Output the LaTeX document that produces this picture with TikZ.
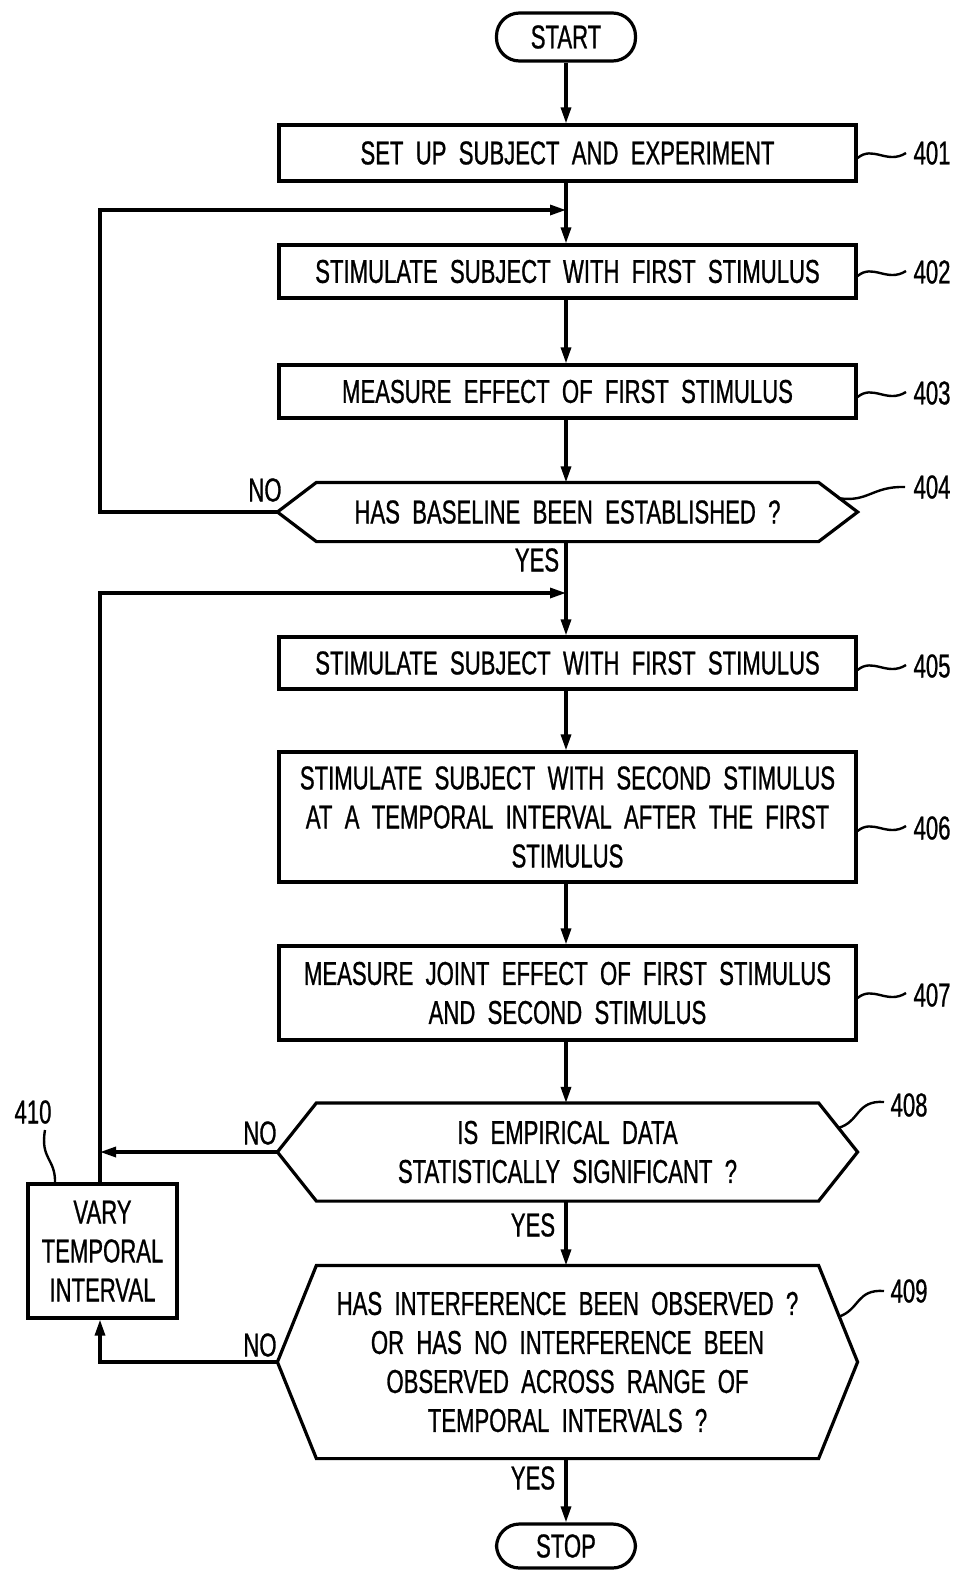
\documentclass[tikz,border=0pt]{standalone}
\usepackage{fontspec}
\setmainfont{Liberation Sans}[FakeStretch=0.67,WordSpace=2,FakeBold=0.8]
\usetikzlibrary{arrows.meta}
\newcommand\fs{\fontsize{33}{39}\selectfont}
\begin{document}
\begin{tikzpicture}[x=1pt,y=-1pt,line width=3.2pt,
  box/.style={draw,minimum width=577pt,minimum height=#1,inner sep=0pt,align=center,font=\fs},
  hexn/.style={minimum width=577pt,minimum height=#1,inner sep=0pt,align=center,font=\fs},
  pill/.style={draw,rounded corners=23pt,minimum width=139pt,minimum height=#1,inner sep=0pt,font=\fs},
  lbl/.style={inner sep=0pt,font=\fs},
  arr/.style={-{Triangle[length=16pt,width=10pt]}},
  lead/.style={line width=2.4pt}]
\useasboundingbox (0,0) rectangle (961,1572);
% nodes
\node[pill=48pt] (start) at (566,37) {START};
\node[box=56pt] (b401) at (567.5,153) {SET UP SUBJECT AND EXPERIMENT};
\node[box=53pt] (b402) at (567.5,271.5) {STIMULATE SUBJECT WITH FIRST STIMULUS};
\node[box=53pt] (b403) at (567.5,391.5) {MEASURE EFFECT OF FIRST STIMULUS};
\node[hexn=56pt] (h404) at (567.5,512) {HAS BASELINE BEEN ESTABLISHED ?};
\node[box=52pt] (b405) at (567.5,663) {STIMULATE SUBJECT WITH FIRST STIMULUS};
\node[box=130pt] (b406) at (567.5,817) {STIMULATE SUBJECT WITH SECOND STIMULUS\\AT A TEMPORAL INTERVAL AFTER THE FIRST\\STIMULUS};
\node[box=94pt] (b407) at (567.5,993) {MEASURE JOINT EFFECT OF FIRST STIMULUS\\AND SECOND STIMULUS};
\node[hexn=95pt] (h408) at (567.5,1152) {IS EMPIRICAL DATA\\STATISTICALLY SIGNIFICANT ?};
\node[hexn=190pt] (h409) at (567.5,1362) {HAS INTERFERENCE BEEN OBSERVED ?\\OR HAS NO INTERFERENCE BEEN\\OBSERVED ACROSS RANGE OF\\TEMPORAL INTERVALS ?};
\node[pill=44pt] (stop) at (566,1546) {STOP};
\node[draw,minimum width=149pt,minimum height=134pt,inner sep=0pt,align=center,font=\fs] (b410) at (102.5,1251) {VARY\\TEMPORAL\\INTERVAL};
% hexagon outlines
\foreach \h in {h404,h408,h409}{
  \draw (\h.west) -- ([xshift=39pt]\h.north west) -- ([xshift=-39pt]\h.north east) -- (\h.east)
    -- ([xshift=-39pt]\h.south east) -- ([xshift=39pt]\h.south west) -- cycle;}
% junctions
\coordinate (j1) at (566,210);
\coordinate (c1) at (100,210);
\coordinate (j2) at (566,593);
\coordinate (c2) at (100,593);
\coordinate (v408) at (100,1152);
% main flow
\draw[arr] (start) -- (start |- b401.north);
\draw[arr] (start |- b401.south) -- (start |- b402.north);
\draw[arr] (start |- b402.south) -- (start |- b403.north);
\draw[arr] (start |- b403.south) -- (start |- h404.north);
\draw[arr] (start |- h404.south) -- (start |- b405.north);
\draw[arr] (start |- b405.south) -- (start |- b406.north);
\draw[arr] (start |- b406.south) -- (start |- b407.north);
\draw[arr] (start |- b407.south) -- (start |- h408.north);
\draw[arr] (start |- h408.south) -- (start |- h409.north);
\draw[arr] (start |- h409.south) -- (stop.north);
% loops
\draw[arr] (h404.west) -| (c1) -- (j1);
\draw[arr] (b410.north -| c2) -- (c2) -- (j2);
\draw[arr] (h408.west) -- (v408);
\draw[arr] (h409.west) -| (b410.south -| c2);
% yes / no labels
\node[lbl] (no404) at (265,490) {NO};
\node[lbl] (yes404) at (537,560) {YES};
\node[lbl] (no408) at (260,1133) {NO};
\node[lbl] (yes408) at (533,1225) {YES};
\node[lbl] (no409) at (260,1345) {NO};
\node[lbl] (yes409) at (533,1478) {YES};
% reference labels
\node[lbl,anchor=west] (l401) at (912,153) {401};
\node[lbl,anchor=west] (l402) at (912,272) {402};
\node[lbl,anchor=west] (l403) at (912,393) {403};
\node[lbl,anchor=west] (l404) at (912,487) {404};
\node[lbl,anchor=west] (l405) at (912,666) {405};
\node[lbl,anchor=west] (l406) at (912,828) {406};
\node[lbl,anchor=west] (l407) at (912,995) {407};
\node[lbl,anchor=west] (l408) at (889,1105) {408};
\node[lbl,anchor=west] (l409) at (889,1291) {409};
\node[lbl] (l410) at (33,1112) {410};
% leaders
\foreach \b/\y in {b401/155,b402/273,b403/394,b405/667,b406/828,b407/995}{
  \draw[lead] (\b.east |- 0,\y+3) .. controls (873,\y-10) and (887,\y+10) .. (906,\y-2);}
\draw[lead] (838,498) .. controls (868,503) and (872,486) .. (905,487);
\draw[lead] (838,1128) .. controls (860,1122) and (856,1100) .. (884,1102);
\draw[lead] (838,1317) .. controls (860,1310) and (856,1289) .. (884,1291);
\draw[lead] (45,1130) .. controls (40,1160) and (56,1158) .. (55,1184);
\end{tikzpicture}
\end{document}
